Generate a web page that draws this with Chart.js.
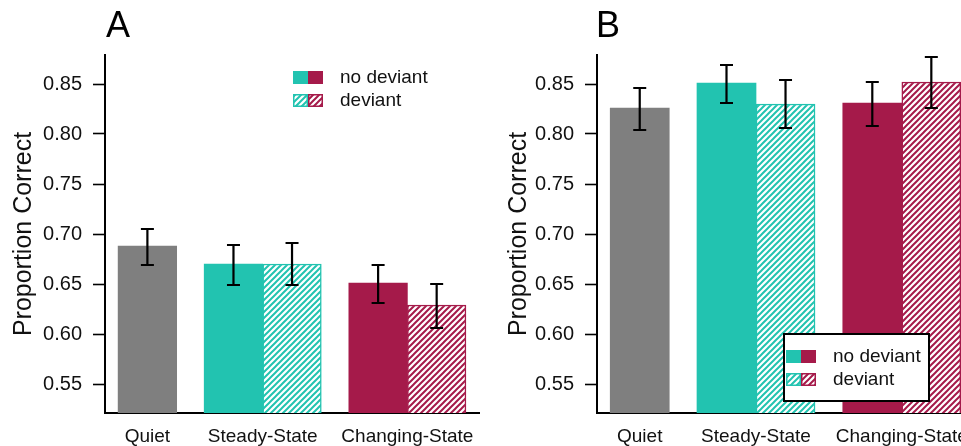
<!DOCTYPE html>
<html>
<head>
<meta charset="utf-8">
<script src="https://cdn.jsdelivr.net/npm/chart.js@4.4.0/dist/chart.umd.min.js"></script>
<style>
  html, body { margin: 0; padding: 0; background: #fff; width: 961px; height: 446px; overflow: hidden; }
  .panel { position: absolute; top: 0; height: 446px; }
  #panelA { left: 0; width: 480px; }
  #panelB { left: 480px; width: 495px; }
  .tag { position: absolute; top: 7px; font: 36px "Liberation Sans", Arial, sans-serif; line-height: 36px; color: #000; }
</style>
</head>
<body>
<div class="panel" id="panelA">
  <canvas id="chartA" width="480" height="446"></canvas>
  <div class="tag" style="left:106px">A</div>
</div>
<div class="panel" id="panelB">
  <canvas id="chartB" width="495" height="446"></canvas>
  <div class="tag" style="left:116px">B</div>
</div>
<script>
// ---- data ----
const categories = ['Quiet', 'Steady-State', 'Changing-State'];
const legendLabels = ['no deviant', 'deviant'];
const yTicks = [0.55, 0.60, 0.65, 0.70, 0.75, 0.80, 0.85];
const yTitle = 'Proportion Correct';

// panel A
const quietA = [0.688];
const quietErrA = [[0.669, 0.705]];
const noDeviantA = [0.670, 0.651];
const noDeviantErrA = [[0.649, 0.689], [0.631, 0.669]];
const deviantA = [0.670, 0.629];
const deviantErrA = [[0.649, 0.691], [0.606, 0.650]];

// panel B
const quietB = [0.826];
const quietErrB = [[0.804, 0.846]];
const noDeviantB = [0.851, 0.831];
const noDeviantErrB = [[0.831, 0.869], [0.808, 0.852]];
const deviantB = [0.830, 0.852];
const deviantErrB = [[0.806, 0.854], [0.826, 0.877]];

// ---- style ----
const GREY = '#7f7f7f';
const TEAL = '#22c3b0';
const CRIMSON = '#a51a4a';
const FONT = '"Liberation Sans", Arial, sans-serif';
Chart.defaults.font.family = FONT;
Chart.defaults.color = '#111';

// bar slots: Quiet has one bar, the other conditions a pair; half a bar gap between groups
const GAP = 0.47;
const quietX = [];
const pairX = [];
const groupCentres = [];
(function () {
  let start = 0.5;
  [1, 2, 2].forEach((n, g) => {
    for (let k = 0; k < n; k++) (g === 0 ? quietX : pairX).push(start + k + 0.5);
    groupCentres.push(start + n / 2);
    start += n + GAP;
  });
})();
const X_MIN = 0.276, X_MAX = 6.68;

function hatch(color) {
  const c = document.createElement('canvas');
  c.width = 6; c.height = 6;
  const g = c.getContext('2d');
  g.fillStyle = '#fff';
  g.fillRect(0, 0, 6, 6);
  g.strokeStyle = color;
  g.lineWidth = 2;
  g.beginPath();
  g.moveTo(-1, 7); g.lineTo(7, -1);
  g.moveTo(-1, 1); g.lineTo(1, -1);
  g.moveTo(5, 7); g.lineTo(7, 5);
  g.stroke();
  return g.createPattern(c, 'repeat');
}

// error bars from each dataset's err list
const errorBars = {
  id: 'errorBars',
  afterDatasetsDraw(chart) {
    const { ctx } = chart;
    const y = chart.scales.y;
    const cap = 6.5;
    ctx.save();
    ctx.strokeStyle = '#000';
    ctx.lineWidth = 2.2;
    chart.data.datasets.forEach((ds, di) => {
      chart.getDatasetMeta(di).data.forEach((bar, i) => {
        const yl = y.getPixelForValue(ds.err[i][0]);
        const yh = y.getPixelForValue(ds.err[i][1]);
        ctx.beginPath();
        ctx.moveTo(bar.x, yl); ctx.lineTo(bar.x, yh);
        ctx.moveTo(bar.x - cap, yl); ctx.lineTo(bar.x + cap, yl);
        ctx.moveTo(bar.x - cap, yh); ctx.lineTo(bar.x + cap, yh);
        ctx.stroke();
      });
    });
    ctx.restore();
  }
};

// legend with a teal + crimson swatch pair per row
const pairLegend = {
  id: 'pairLegend',
  afterDraw(chart, args, opts) {
    const { ctx } = chart;
    const sx = opts.x, r1 = opts.y;
    const rows = [r1, r1 + 23];
    ctx.save();
    if (opts.box) {
      const [bx, by, bw, bh] = opts.box;
      ctx.fillStyle = '#fff';
      ctx.fillRect(bx, by, bw, bh);
      ctx.strokeStyle = '#000';
      ctx.lineWidth = 2;
      ctx.strokeRect(bx, by, bw, bh);
    }
    [TEAL, CRIMSON].forEach((col, k) => {
      ctx.fillStyle = col;
      ctx.fillRect(sx + k * 15, rows[0] - 6.5, 15, 13);
      ctx.fillStyle = hatch(col);
      ctx.fillRect(sx + k * 15, rows[1] - 6.5, 15, 13);
      ctx.strokeStyle = col;
      ctx.lineWidth = 1.5;
      ctx.strokeRect(sx + k * 15 + 0.75, rows[1] - 5.75, 13.5, 11.5);
    });
    ctx.fillStyle = '#111';
    ctx.font = '19px ' + FONT;
    ctx.textBaseline = 'middle';
    legendLabels.forEach((t, k) => ctx.fillText(t, sx + 47, rows[k]));
    ctx.restore();
  }
};

function makePanel(id, quiet, quietErr, noDev, noDevErr, dev, devErr, axisWidth, titlePad, legend) {
  const canvas = document.getElementById(id);
  return new Chart(canvas, {
    type: 'bar',
    data: {
      datasets: [
        {
          label: categories[0],
          data: quiet.map((v, i) => ({ x: quietX[i], y: v })),
          err: quietErr,
          backgroundColor: GREY
        },
        {
          label: legendLabels[0],
          data: noDev.map((v, i) => ({ x: pairX[i * 2], y: v })),
          err: noDevErr,
          backgroundColor: [TEAL, CRIMSON]
        },
        {
          label: legendLabels[1],
          data: dev.map((v, i) => ({ x: pairX[i * 2 + 1], y: v })),
          err: devErr,
          backgroundColor: [hatch(TEAL), hatch(CRIMSON)],
          borderColor: [TEAL, CRIMSON],
          borderWidth: 1.5,
          borderSkipped: false
        }
      ]
    },
    options: {
      responsive: false,
      animation: false,
      grouped: false,
      barPercentage: 1,
      categoryPercentage: 1,
      layout: { padding: { top: 55, left: 0, right: 0, bottom: 0 } },
      plugins: {
        legend: { display: false },
        tooltip: { enabled: false },
        pairLegend: legend
      },
      scales: {
        x: {
          type: 'linear',
          offset: false,
          min: X_MIN,
          max: X_MAX,
          afterBuildTicks: s => { s.ticks = groupCentres.map(v => ({ value: v })); },
          afterFit: s => { s.height = 33; },
          grid: { display: false, offset: false },
          border: { display: true, color: '#000', width: 2 },
          ticks: {
            autoSkip: false,
            maxRotation: 0,
            padding: 4,
            font: { size: 19 },
            callback: (v, i) => categories[i]
          }
        },
        y: {
          min: 0.521,
          max: 0.879,
          afterBuildTicks: s => { s.ticks = yTicks.map(v => ({ value: v })); },
          afterFit: s => { s.width = axisWidth; },
          grid: { drawOnChartArea: false, drawTicks: true, tickLength: 12, tickColor: '#000', tickWidth: 1.6 },
          border: { display: true, color: '#000', width: 2 },
          ticks: { padding: 11, font: { size: 20 }, callback: v => v.toFixed(2) },
          title: { display: true, text: yTitle, font: { size: 25 }, color: '#111', padding: { top: titlePad, bottom: 0 } }
        }
      }
    },
    plugins: [errorBars, pairLegend]
  });
}

makePanel('chartA', quietA, quietErrA, noDeviantA, noDeviantErrA, deviantA, deviantErrA,
  105, 9.5, { x: 293, y: 77.5, box: null });
makePanel('chartB', quietB, quietErrB, noDeviantB, noDeviantErrB, deviantB, deviantErrB,
  117, 24, { x: 306, y: 356.5, box: [304, 334, 145, 67] });
</script>
</body>
</html>
